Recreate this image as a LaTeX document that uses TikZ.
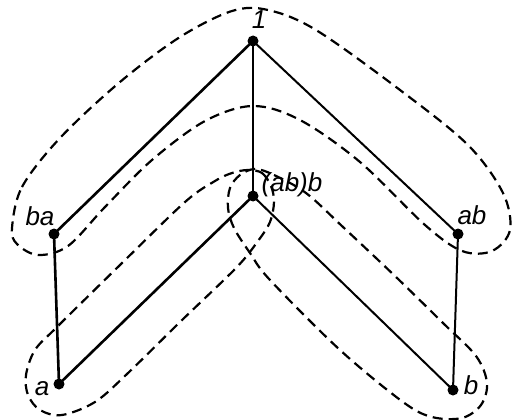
\documentclass[tikz,border=0pt]{standalone}
\usepackage{fontspec}
\setmainfont{Liberation Sans}
\begin{document}
\begin{tikzpicture}[x=1pt,y=-1pt,
  dot/.style={circle,fill,inner sep=0pt,minimum size=11pt},
  edgethick/.style={line width=2.6pt},
  edgethin/.style={line width=2.0pt},
  loopline/.style={line width=2.2pt,dash pattern=on 10pt off 6pt},
  lbl/.style={font=\fontsize{26}{29}\selectfont\itshape,inner sep=0pt}]
\useasboundingbox (0,0) rectangle (512,420);
% vertices
\node[dot] (n1) at (253,41) {};
\node[dot] (ba) at (54,234) {};
\node[dot] (abb) at (253,196) {};
\node[dot] (ab) at (458,234) {};
\node[dot] (a) at (59,384) {};
\node[dot] (b) at (453,390) {};
% labels
\node[lbl] (l1) at (259,20) {1};
\node[lbl] (lba) at (40,216) {ba};
\node[lbl] (labb) at (292,185) {(ab)b};
\node[lbl] (lab) at (472,215) {ab};
\node[lbl] (la) at (42,389) {a};
\node[lbl] (lb) at (471,385) {b};
% edges
\draw[edgethick] (n1.center) -- (ba.center);
\draw[edgethin] (n1.center) -- (ab.center);
\draw[edgethick] (n1.center) -- (abb.center);
\draw[edgethick] (ba.center) -- (a.center);
\draw[edgethin] (ab.center) -- (b.center);
\draw[edgethick] (a.center) -- (abb.center);
\draw[edgethin] (abb.center) -- (b.center);
% dashed loops
\draw[loopline] plot[smooth cycle, tension=0.55] coordinates {
  (12,228) (22,187) (60,138) (120,82) (180,37) (232,11) (268,10) (316,30)
  (400,90) (468,145) (503,193) (510,230) (492,251) (462,251) (425,225)
  (360,162) (300,120) (253,106) (205,121) (152,160) (105,207) (68,246)
  (38,255) (17,244)};
\draw[loopline] plot[smooth cycle, tension=0.55] coordinates {
  (248,170) (262,173) (271,186) (274,202) (270,222) (258,241) (236,268)
  (180,322) (127,374) (95,402) (62,415) (40,410) (28,395) (26,375)
  (35,350) (57,327) (120,265) (185,202) (215,181) (232,173)};
\draw[loopline] plot[smooth cycle, tension=0.55] coordinates {
  (255,169) (274,175) (306,193) (343,227) (396,277) (443,323) (476,356)
  (487,383) (481,405) (462,418) (432,417) (403,402) (340,350) (270,280)
  (250,253) (234,228) (228,208) (230,188) (240,175)};
\end{tikzpicture}
\end{document}
